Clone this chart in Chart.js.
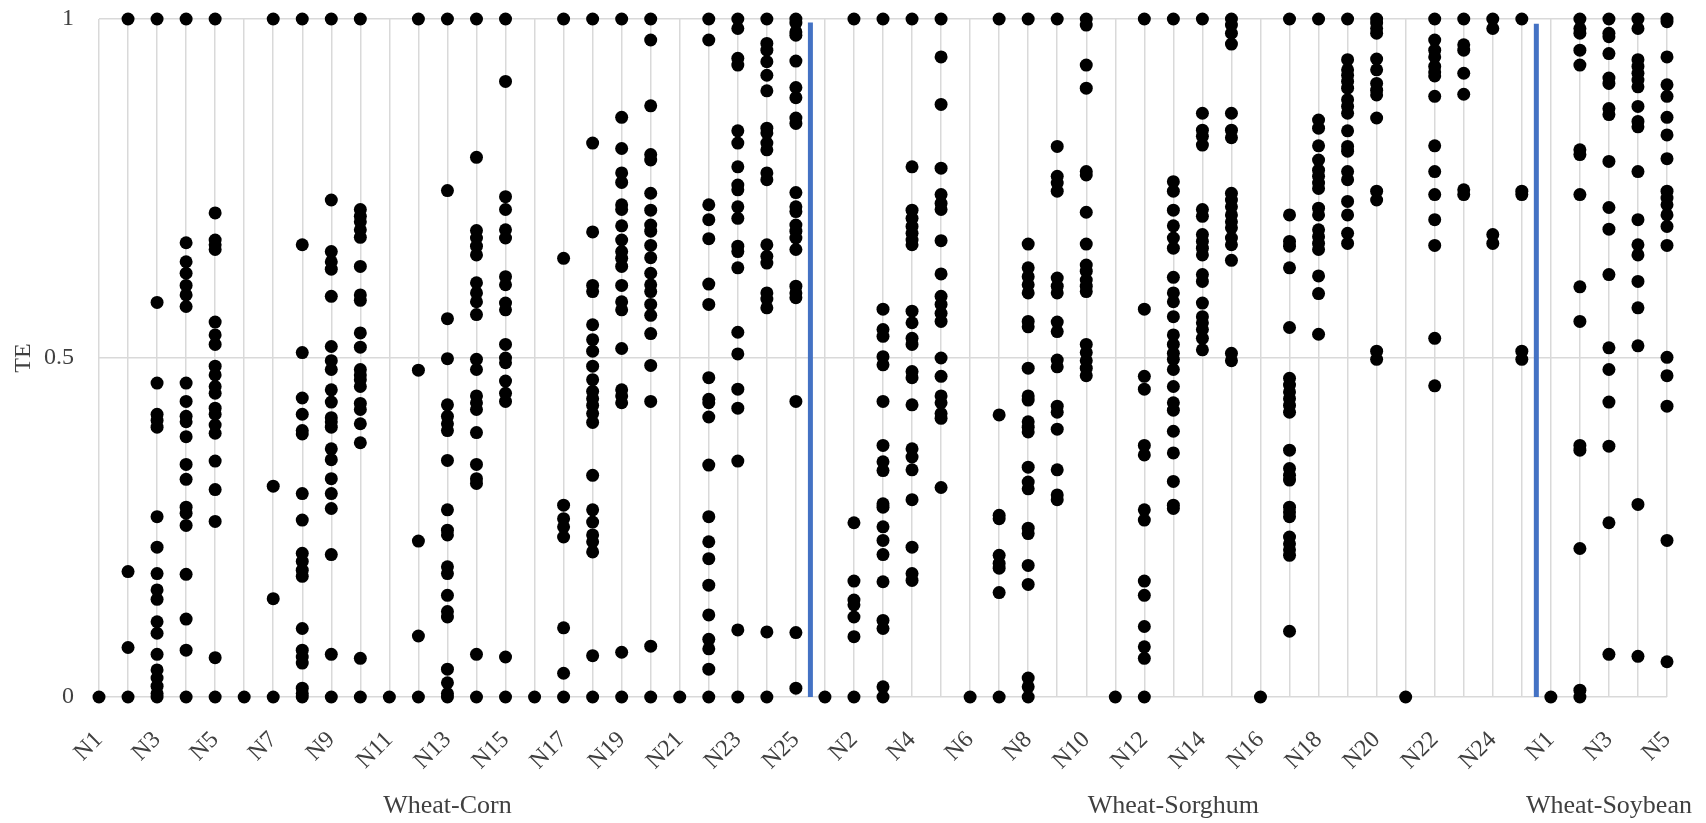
<!DOCTYPE html>
<html>
<head>
<meta charset="utf-8">
<script src="https://cdn.jsdelivr.net/npm/chart.js@4"></script>
<style>
  html, body { margin: 0; padding: 0; background: #fff; }
  #wrap { width: 1706px; height: 823px; position: relative; }
</style>
</head>
<body>
<div id="wrap"><canvas id="myChart"></canvas></div>
<script>
// categories
const groupNames = ['Wheat-Corn', 'Wheat-Sorghum', 'Wheat-Soybean'];
const cornLabels = ['N1','N2','N3','N4','N5','N6','N7','N8','N9','N10','N11','N12','N13','N14','N15','N16','N17','N18','N19','N20','N21','N22','N23','N24','N25'];
const sorghumLabels = ['N1','N2','N3','N4','N5','N6','N7','N8','N9','N10','N11','N12','N13','N14','N15','N16','N17','N18','N19','N20','N21','N22','N23','N24','N25'];
const soybeanLabels = ['N1','N2','N3','N4','N5'];
const yTicks = [0, 0.5, 1];

// TE values, one list per N level
const cornTE = [
  [0],
  [1, 0.185, 0.073, 0],
  [1, 0.582, 0.463, 0.417, 0.408, 0.398, 0.266, 0.221, 0.182, 0.158, 0.144, 0.111, 0.094, 0.063, 0.040, 0.028, 0.016, 0.005, 0],
  [1, 0.670, 0.642, 0.625, 0.607, 0.593, 0.576, 0.463, 0.436, 0.414, 0.406, 0.384, 0.343, 0.321, 0.280, 0.271, 0.253, 0.181, 0.115, 0.069, 0],
  [1, 0.714, 0.674, 0.667, 0.660, 0.553, 0.534, 0.520, 0.488, 0.475, 0.458, 0.448, 0.426, 0.417, 0.401, 0.389, 0.348, 0.306, 0.259, 0.058, 0],
  [0],
  [1, 0.311, 0.145, 0],
  [1, 0.667, 0.508, 0.441, 0.417, 0.393, 0.388, 0.300, 0.261, 0.212, 0.200, 0.187, 0.178, 0.101, 0.069, 0.059, 0.050, 0.013, 0.005, 0],
  [1, 0.733, 0.657, 0.642, 0.631, 0.591, 0.517, 0.496, 0.483, 0.453, 0.435, 0.412, 0.406, 0.398, 0.366, 0.350, 0.322, 0.300, 0.278, 0.210, 0.063, 0],
  [1, 0.719, 0.709, 0.701, 0.689, 0.678, 0.635, 0.593, 0.585, 0.537, 0.516, 0.483, 0.475, 0.468, 0.458, 0.433, 0.424, 0.403, 0.375, 0.057, 0],
  [0],
  [1, 0.482, 0.230, 0.090, 0],
  [1, 0.747, 0.558, 0.499, 0.431, 0.414, 0.403, 0.393, 0.349, 0.276, 0.246, 0.239, 0.192, 0.182, 0.150, 0.126, 0.118, 0.041, 0.021, 0.005, 0],
  [1, 0.796, 0.688, 0.677, 0.665, 0.652, 0.611, 0.596, 0.583, 0.564, 0.498, 0.483, 0.444, 0.434, 0.424, 0.390, 0.343, 0.322, 0.315, 0.063, 0],
  [1, 0.908, 0.738, 0.719, 0.689, 0.677, 0.620, 0.608, 0.581, 0.571, 0.520, 0.500, 0.493, 0.466, 0.448, 0.436, 0.059, 0],
  [0],
  [1, 0.647, 0.283, 0.263, 0.251, 0.236, 0.102, 0.035, 0],
  [1, 0.817, 0.686, 0.607, 0.598, 0.549, 0.527, 0.510, 0.488, 0.468, 0.451, 0.440, 0.430, 0.418, 0.405, 0.327, 0.276, 0.258, 0.239, 0.229, 0.214, 0.061, 0],
  [1, 0.855, 0.809, 0.773, 0.759, 0.726, 0.719, 0.695, 0.674, 0.657, 0.647, 0.635, 0.607, 0.583, 0.571, 0.514, 0.453, 0.444, 0.434, 0.066, 0],
  [1, 0.969, 0.872, 0.800, 0.792, 0.743, 0.718, 0.696, 0.687, 0.666, 0.648, 0.625, 0.608, 0.598, 0.579, 0.563, 0.536, 0.489, 0.436, 0.075, 0],
  [0],
  [1, 0.969, 0.726, 0.704, 0.676, 0.609, 0.579, 0.471, 0.439, 0.434, 0.413, 0.342, 0.266, 0.229, 0.204, 0.165, 0.121, 0.085, 0.071, 0.041, 0],
  [1, 0.986, 0.942, 0.932, 0.835, 0.817, 0.782, 0.755, 0.748, 0.723, 0.706, 0.665, 0.657, 0.633, 0.538, 0.506, 0.454, 0.426, 0.348, 0.099, 0],
  [1, 0.964, 0.954, 0.937, 0.917, 0.894, 0.839, 0.832, 0.817, 0.807, 0.773, 0.763, 0.667, 0.650, 0.640, 0.596, 0.587, 0.574, 0.096, 0],
  [1, 0.994, 0.981, 0.976, 0.938, 0.899, 0.884, 0.854, 0.846, 0.744, 0.723, 0.716, 0.696, 0.687, 0.677, 0.660, 0.606, 0.596, 0.589, 0.436, 0.095, 0.013]
];

const sorghumTE = [
  [0],
  [1, 0.257, 0.171, 0.143, 0.136, 0.118, 0.089, 0],
  [1, 0.572, 0.542, 0.532, 0.502, 0.490, 0.436, 0.371, 0.347, 0.334, 0.285, 0.280, 0.251, 0.231, 0.210, 0.170, 0.113, 0.101, 0.015, 0],
  [1, 0.782, 0.718, 0.706, 0.694, 0.684, 0.674, 0.667, 0.569, 0.552, 0.529, 0.520, 0.480, 0.471, 0.431, 0.366, 0.354, 0.335, 0.291, 0.221, 0.182, 0.172],
  [1, 0.944, 0.874, 0.780, 0.741, 0.728, 0.719, 0.673, 0.624, 0.591, 0.579, 0.566, 0.554, 0.500, 0.473, 0.444, 0.434, 0.418, 0.411, 0.309],
  [0],
  [1, 0.416, 0.268, 0.263, 0.209, 0.197, 0.190, 0.154, 0],
  [1, 0.668, 0.633, 0.620, 0.608, 0.596, 0.554, 0.546, 0.485, 0.444, 0.438, 0.406, 0.398, 0.391, 0.339, 0.317, 0.307, 0.249, 0.241, 0.194, 0.166, 0.028, 0.015, 0],
  [1, 0.812, 0.768, 0.758, 0.746, 0.618, 0.606, 0.596, 0.553, 0.539, 0.497, 0.487, 0.429, 0.420, 0.395, 0.335, 0.298, 0.291],
  [1, 0.991, 0.932, 0.898, 0.775, 0.770, 0.715, 0.668, 0.637, 0.628, 0.615, 0.606, 0.598, 0.520, 0.508, 0.496, 0.485, 0.474],
  [0],
  [1, 0.572, 0.473, 0.454, 0.371, 0.357, 0.276, 0.261, 0.171, 0.150, 0.104, 0.074, 0.057, 0],
  [1, 0.760, 0.746, 0.718, 0.695, 0.677, 0.662, 0.619, 0.596, 0.583, 0.561, 0.534, 0.520, 0.507, 0.498, 0.483, 0.458, 0.434, 0.423, 0.392, 0.360, 0.318, 0.283, 0.278],
  [1, 0.861, 0.836, 0.827, 0.814, 0.719, 0.709, 0.682, 0.672, 0.662, 0.652, 0.623, 0.613, 0.581, 0.561, 0.552, 0.542, 0.529, 0.512],
  [1, 0.991, 0.979, 0.963, 0.861, 0.836, 0.825, 0.743, 0.733, 0.723, 0.711, 0.701, 0.692, 0.677, 0.667, 0.644, 0.507, 0.496],
  [0],
  [1, 0.711, 0.672, 0.665, 0.633, 0.545, 0.470, 0.460, 0.450, 0.440, 0.430, 0.420, 0.364, 0.337, 0.327, 0.320, 0.280, 0.273, 0.266, 0.236, 0.226, 0.217, 0.209, 0.097],
  [1, 0.851, 0.839, 0.813, 0.792, 0.777, 0.768, 0.758, 0.750, 0.721, 0.711, 0.689, 0.679, 0.669, 0.660, 0.621, 0.595, 0.535],
  [1, 0.940, 0.925, 0.917, 0.908, 0.898, 0.881, 0.871, 0.861, 0.835, 0.812, 0.805, 0.775, 0.763, 0.731, 0.711, 0.684, 0.669],
  [1, 0.994, 0.986, 0.979, 0.941, 0.925, 0.905, 0.895, 0.888, 0.854, 0.746, 0.733, 0.510, 0.498],
  [0],
  [1, 0.969, 0.954, 0.944, 0.930, 0.922, 0.916, 0.886, 0.813, 0.775, 0.741, 0.704, 0.666, 0.529, 0.459],
  [1, 0.962, 0.954, 0.920, 0.889, 0.748, 0.741],
  [1, 0.986, 0.682, 0.669],
  [1, 0.746, 0.741, 0.510, 0.498]
];

const soybeanTE = [
  [0],
  [1, 0.986, 0.979, 0.954, 0.932, 0.807, 0.800, 0.741, 0.605, 0.554, 0.371, 0.364, 0.219, 0.010, 0],
  [1, 0.979, 0.974, 0.949, 0.913, 0.905, 0.868, 0.859, 0.790, 0.722, 0.690, 0.623, 0.515, 0.483, 0.435, 0.370, 0.257, 0.063],
  [1, 0.986, 0.940, 0.930, 0.920, 0.910, 0.900, 0.871, 0.849, 0.841, 0.775, 0.704, 0.667, 0.652, 0.613, 0.574, 0.518, 0.284, 0.060],
  [1, 0.996, 0.944, 0.903, 0.886, 0.855, 0.829, 0.794, 0.746, 0.736, 0.726, 0.711, 0.694, 0.666, 0.501, 0.474, 0.429, 0.231, 0.052]
];

// top of the blue separator lines
const separatorTop = [0.995, 0.993];

const FONT = '"Liberation Serif", "Times New Roman", serif';
const TXT = '#404040';

const allLabels = cornLabels.concat(sorghumLabels, soybeanLabels);
const allTE = cornTE.concat(sorghumTE, soybeanTE);
const groupSizes = [cornLabels.length, sorghumLabels.length, soybeanLabels.length];

const points = [];
allTE.forEach((vals, i) => vals.forEach(v => points.push({x: i, y: v})));

// separators sit half way between the groups
const sepX = [groupSizes[0] - 0.5, groupSizes[0] + groupSizes[1] - 0.5];
const sepSets = sepX.map((sx, k) => ({
  type: 'line',
  data: [{x: sx, y: 0}, {x: sx, y: separatorTop[k]}],
  borderColor: '#4472C4',
  borderWidth: 5,
  borderCapStyle: 'butt',
  pointRadius: 0,
  showLine: true,
  clip: false
}));

const groupLabels = {
  id: 'groupLabels',
  afterDraw(chart) {
    const ctx = chart.ctx;
    const xs = chart.scales.x;
    ctx.save();
    ctx.font = '26px ' + FONT;
    ctx.fillStyle = TXT;
    ctx.textAlign = 'center';
    ctx.textBaseline = 'alphabetic';
    let start = 0;
    groupNames.forEach((name, i) => {
      const mid = start + (groupSizes[i] - 1) / 2;
      ctx.fillText(name, xs.getPixelForValue(mid), 813);
      start += groupSizes[i];
    });
    ctx.restore();
  }
};

const config = {
  type: 'scatter',
  data: {
    datasets: [
      {
        label: 'TE',
        data: points,
        backgroundColor: '#000',
        borderWidth: 0,
        pointRadius: 6.5,
        pointHoverRadius: 6.5,
        clip: false
      },
      ...sepSets
    ]
  },
  options: {
    responsive: true,
    maintainAspectRatio: false,
    animation: false,
    layout: { padding: { left: 0, right: 39, top: 19, bottom: 0 } },
    plugins: { legend: { display: false }, tooltip: { enabled: false } },
    scales: {
      x: {
        type: 'linear',
        min: 0,
        max: allLabels.length - 1,
        border: { display: false },
        grid: { color: '#d9d9d9', lineWidth: 1.5, drawTicks: false },
        ticks: {
          stepSize: 1,
          autoSkip: false,
          minRotation: 45,
          maxRotation: 45,
          padding: 29,
          color: TXT,
          font: { family: FONT, size: 24 },
          callback: (v) => (v % 2 === 0 ? allLabels[v] : '')
        },
        afterFit(s) { s.height = 126; s.paddingLeft = 0; s.paddingRight = 0; }
      },
      y: {
        min: yTicks[0],
        max: yTicks[yTicks.length - 1],
        border: { display: false },
        grid: { color: '#d9d9d9', lineWidth: 1.5, drawTicks: false },
        ticks: {
          stepSize: yTicks[1] - yTicks[0],
          padding: 25,
          color: TXT,
          font: { family: FONT, size: 24 },
          callback: (v) => String(v)
        },
        title: {
          display: true,
          text: 'TE',
          color: TXT,
          font: { family: FONT, size: 24 },
          padding: { top: 9, bottom: 0 }
        },
        afterFit(s) { s.width = 99; s.paddingTop = 0; s.paddingBottom = 0; }
      }
    }
  },
  plugins: [groupLabels]
};

const myChart = new Chart('myChart', config);
</script>
</body>
</html>
